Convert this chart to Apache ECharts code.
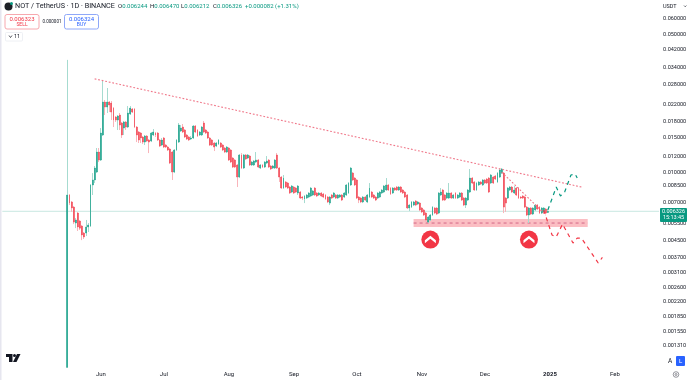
<!DOCTYPE html>
<html><head><meta charset="utf-8">
<style>html,body{margin:0;padding:0;background:#fff}#c{width:690px;height:380px}</style>
<script src="https://cdn.jsdelivr.net/npm/echarts@6/dist/echarts.min.js"></script>
</head><body><div id="c"></div>
<script>
const opens=[.00102,.00766,.00706,.00665,.00552,.0062,.00565,.00533,.00491,.00491,
.00527,.00533,.00861,.00913,.01002,.01266,.01153,.01545,.02272,.02143,
.02272,.02246,.02118,.01907,.01841,.01952,.01778,.01676,.01799,.01696,
.01975,.02094,.02094,.01696,.016,.01581,.01509,.01423,.01527,.01457,
.0144,.01545,.01581,.01581,.01457,.01374,.01492,.01374,.01342,.01311,
.01266,.01002,.01296,.01423,.01619,.01696,.01638,.01545,.01509,.01474,
.01492,.01716,.01638,.01545,.01545,.01778,.01638,.016,.01492,.01457,
.01407,.01358,.0139,.01407,.01374,.01327,.01266,.01327,.01296,.0118,
.01153,.01088,.00945,.01223,.0105,.01223,.0118,
.01208,.01088,.01088,.01126,.01153,.0105,.01088,.01062,.01113,.01153,.01075,.0105,.0105,.01223,
.0105,.00945,.00831,.00892,.00881,.00841,.00793,.00841,.00831,
.00784,.00793,.00748,.00731,.00739,.00748,.00757,.00766,
.00831,.00784,.00766,.00784,.00775,
.00766,.00748,.00697,.00766,.00748,.00766,.00739,
.00748,.00766,.00748,.00766,.00784,.00861,
.0099,.00934,.00913,.00748,.00739,.00706,.00748,.00706,.00748,.00793,.00766,.00748,.00739,.00748,.00784,.00793,.00812,.00861,.00831,.00784,
.00831,.00841,.00812,.00841,
.00812,.00793,.00766,.00658,.00665,.00681,.00714,.00689,.00697,.00658,.00643,.0062,.00558,.00572,.00606,.00658,.00658,.0062,.00766,.00812,.00766,.00739,.00739,.00784,.00739,.00784,
.00739,
.00748,.00784,.00739,.00681,.00722,.00793,.00934,.00892,.00812,.00861,
.00892,
.00861,.00913,.00923,.00934,.00881,.00945,
.00956,
.00892,.00945,.0099,.0099,.00739,.00739,.00812,.00841,.00784,.00831,.00831,.00748,
.00757,
.00748,.00665,.00606,.00658,.00613,.00643,.00681,.00665,.0062,.00628,.0065,
.006244];
const closes=[.00766,.00697,.00658,.00558,.00572,.00527,.0052,.0048,.00469,.00527,
.00539,.00861,.00913,.0105,.01266,.01153,.01581,.02272,.02143,.02272,
.02194,.02021,.01841,.01841,.01929,.01736,.01545,.01799,.01696,.01998,
.02118,.02021,.01696,.01545,.01457,.01492,.01423,.01527,.0144,.01423,
.01581,.016,.01545,.01457,.01358,.01457,.01342,.01342,.01296,.01113,
.01002,.01296,.01457,.01736,.01676,.016,.01509,.01474,.01457,.01492,
.01716,.016,.01527,.016,.01696,.016,.01581,.01492,.01374,.01374,
.01342,.01407,.01457,.01342,.01296,.01266,.01342,.01153,.01126,.01062,
.01062,.00945,.01223,.0105,.01223,.01167,.01223,
.01088,.01126,.0114,.01153,.01062,.01088,.01062,.01126,.0114,.01062,.01038,.01075,.01153,.0105,
.00945,.00831,.00934,.00841,.00831,.00784,.00851,.00784,.00793,
.00851,.00739,.00739,.00757,.00766,.00784,.00831,.00803,
.00766,.00757,.00784,.00757,.00748,
.00731,.00706,.00748,.00739,.00784,.00739,.00766,
.00766,.00722,.00784,.00861,.00881,.0105,
.00913,.00861,.00739,.00722,.00706,.00748,.00722,.00766,.00831,.00748,.00739,.00722,.00784,.00793,.00812,.00851,.00861,.00812,.00775,.00831,
.00812,.00812,.00841,.00793,
.00784,.00748,.00658,.00681,.00706,.00706,.00681,.00706,.00643,.00628,.00606,.00572,.00592,.00606,.00665,.0062,.00613,.00784,.00793,.00722,.00722,.00784,.00784,.00739,.00766,.00739,
.00766,
.00784,.00722,.00681,.00739,.00812,.00934,.00881,.00812,.00881,.00892,
.00871,
.00913,.00881,.00881,.00793,.00968,.00881,
.00923,
.0099,.01026,.01038,.00665,.00697,.00831,.00841,.00793,.00812,.00766,.00739,.00739,
.00739,
.00665,.00606,.00658,.00613,.00658,.00681,.0065,.0062,.00658,.00658,.0062,
.006326];
const lows=[.00102,.00681,.00628,.00545,.0052,.00503,.00509,.00452,.00458,.00474,
.00497,.00527,.00766,.00881,.0099,.01126,.0114,.01527,.01952,.01998,
.02021,.01841,.01696,.01799,.01638,.01638,.01492,.01545,.01638,.01676,
.01952,.01998,.01676,.01423,.01407,.01407,.0139,.01374,.01423,.01251,
.01423,.01527,.01509,.0144,.01342,.01358,.01327,.01327,.01281,.011,
.00913,.0099,.01281,.01407,.016,.01581,.01492,.01457,.0144,.01457,
.01474,.01581,.01509,.01527,.01527,.01581,.01563,.01474,.01358,.01358,
.01281,.01342,.01374,.01327,.01281,.01251,.01251,.0114,.01113,.0105,
.0105,.00841,.00934,.01038,.01038,.01153,.01167,
.01075,.01075,.01075,.01113,.0105,.01038,.0105,.0105,.011,.0105,.01026,.01038,.01038,.01038,
.00892,.00822,.00822,.00831,.00822,.00775,.00784,.00775,.00784,
.00766,.00731,.00722,.00697,.00731,.00739,.00748,.00757,
.00757,.00748,.00757,.00748,.00739,
.00722,.00697,.00681,.00731,.00739,.00731,.00731,
.00739,.00714,.00739,.00757,.00775,.00851,
.00902,.00851,.00731,.00697,.00697,.00697,.00714,.00697,.00739,.00739,.00731,.00714,.00731,.00739,.00775,.00784,.00803,.00803,.00766,.00775,
.00803,.00803,.00803,.00784,
.00775,.00739,.0065,.00635,.00658,.00673,.00673,.00681,.00635,.0062,.00599,.00552,.00552,.00565,.00599,.00613,.00606,.00613,.00757,.00714,.00714,.00731,.00731,.00731,.00731,.00731,
.00731,
.00739,.00714,.00673,.00658,.00714,.00784,.00871,.00803,.00803,.00851,
.00861,
.00851,.00871,.00871,.00784,.00871,.00871,
.00913,
.00881,.00934,.00979,.0062,.00628,.00731,.00803,.00784,.00775,.00757,.00731,.00731,
.00731,
.00658,.00599,.00552,.00606,.00606,.00635,.00643,.00613,.00613,.0062,.00613,
.006212];
const highs=[.0372,.00775,.00714,.00673,.00585,.00628,.00572,.00539,.00497,.00572,
.00552,.00871,.0099,.01075,.01327,.01327,.01676,.02939,.02326,.02677,
.02299,.02299,.02143,.01929,.01952,.01998,.01799,.0182,.0182,.02168,
.02168,.02118,.02118,.01716,.01619,.016,.01527,.01545,.01545,.01474,
.016,.01657,.016,.016,.01474,.01492,.01509,.0139,.01358,.01327,
.01281,.01311,.01474,.01778,.01736,.01757,.01657,.01563,.01527,.01527,
.01736,.01736,.01657,.01619,.01716,.0182,.01657,.01619,.01509,.01474,
.01423,.01423,.01474,.01423,.0139,.01342,.01358,.01342,.01311,.01194,
.01167,.011,.01237,.01251,.01237,.01237,.01237,
.01223,.0114,.01153,.01266,.01167,.011,.011,.0114,.01208,.01167,.01088,.01088,.01167,.01251,
.01062,.00956,.00968,.00902,.00892,.00851,.00861,.00851,.00841,
.00861,.00803,.00757,.00766,.00775,.00793,.00841,.00812,
.00841,.00793,.00793,.00793,.00784,
.00775,.00757,.00757,.00775,.00793,.00775,.00775,
.00775,.00775,.00793,.00871,.00892,.01062,
.01002,.00945,.00923,.00757,.00748,.00757,.00757,.00775,.00881,.00803,.00775,.00757,.00793,.00803,.00822,.00861,.00934,.00871,.00841,.00841,
.00841,.00851,.00851,.00851,
.00822,.00803,.00775,.00689,.00714,.00714,.00722,.00714,.00706,.00665,.0065,.00628,.00599,.00613,.00673,.00665,.00665,.00793,.00831,.00822,.00775,.00793,.00881,.00793,.00775,.00793,
.00775,
.00793,.00793,.00748,.00748,.00822,.01038,.00945,.00902,.00892,.00902,
.00902,
.00923,.00923,.00934,.00945,.00979,.00956,
.00968,
.01002,.01038,.0105,.01002,.00748,.00841,.00851,.00851,.00851,.00841,.00841,.00757,
.00766,
.00757,.00673,.00665,.00665,.00665,.00689,.00689,.00673,.00665,.00665,.00658,
.00647];

const priceTicks=[0.06,0.05,0.042,0.034,0.028,0.022,0.018,0.015,0.012,0.01,0.0085,0.007,0.0055,0.0045,0.0037,0.0031,0.0026,0.0022,0.00185,0.00155,0.00131];
const monthLabels={'2024-06-01':'Jun','2024-07-01':'Jul','2024-08-01':'Aug','2024-09-01':'Sep','2024-10-01':'Oct','2024-11-01':'Nov','2024-12-01':'Dec','2025-01-01':'2025','2025-02-01':'Feb'};
const lastPrice=0.006326;
// overlays: day = days after the first candle (2024-05-16)
const longTrendDays=[13,245], longTrendPrices=[0.0298,0.00841];
const shortTrendDays=[207,228], shortTrendPrices=[0.01002,0.00606];
const bullDays=[229,233,235,237,240,242,243], bullPrices=[0.00643,0.00841,0.00757,0.00793,0.00968,0.00979,0.00934];
const bearDays=[227,231,233,236,241,243,245,253,255], bearPrices=[0.00643,0.0048,0.00469,0.00545,0.00437,0.00463,0.00463,0.00346,0.00369];
const zoneDays=[165,248], zonePrices=[0.00578,0.00527], zoneMid=0.00552;
const arrowDays=[173,220], arrowPrice=0.00455;

const leadDays=31, totalDays=314;
const categories=[];
for(let i=0;i<totalDays;i++){const d=new Date(Date.UTC(2024,3,15+i));categories.push(d.toISOString().slice(0,10));}
const blank=Array(leadDays).fill('-');
const wicks=blank.concat(opens.map((o,i)=>[o,closes[i],lows[i],highs[i]]));
const bodies=blank.concat(opens.map((o,i)=>[o,closes[i],Math.min(o,closes[i]),Math.max(o,closes[i])]));
const pts=(ds,ps)=>ds.map((d,i)=>[d+leadDays,ps[i]]);
const UP='#089981',DOWN='#f23645',TXT='#131722',FF='Roboto, sans-serif';

function txt(x,y,s,size,fill,opt){return {type:'text',silent:true,z:50,x:x,y:y,style:Object.assign({text:s,fontSize:size,fill:fill,fontFamily:FF,textVerticalAlign:'middle',textAlign:'left'},opt||{})};}
function box(x,y,w,h,fill,stroke,r){return {type:'rect',silent:true,z:49,shape:{x:x,y:y,width:w,height:h,r:r||0},style:{fill:fill,stroke:stroke||null,lineWidth:stroke?1:0}};}
const ohlcRich={l:{fill:TXT,fontSize:6,fontFamily:FF},v:{fill:UP,fontSize:6,fontFamily:FF}};

const graphic=[
 box(0,0,1.5,380,'#e6e6ef'),
 {type:'circle',silent:true,z:50,shape:{cx:8.5,cy:6.5,r:4},style:{fill:'#1c1f26'}},
 {type:'circle',silent:true,z:51,shape:{cx:11.5,cy:3.5,r:1.5},style:{fill:UP}},
 txt(15,6.5,'NOT / TetherUS · 1D · BINANCE',7.2,TXT),
 txt(118,6.5,'{l|O}{v|0.006244}',6,UP,{rich:ohlcRich}),
 txt(150,6.5,'{l|H}{v|0.006470}',6,UP,{rich:ohlcRich}),
 txt(181,6.5,'{l|L}{v|0.006212}',6,UP,{rich:ohlcRich}),
 txt(213,6.5,'{l|C}{v|0.006326}',6,UP,{rich:ohlcRich}),
 txt(245,6.5,'+0.000082 (+1.31%)',6,UP),
 box(5,14.5,34,14.5,'#fff','#f7a8ae',2),
 txt(22,19,'0.006323',6,DOWN,{textAlign:'center'}),
 txt(22,25,'SELL',5,DOWN,{textAlign:'center'}),
 txt(52,21.5,'0.000001',4.5,TXT,{textAlign:'center'}),
 box(64.5,14.5,34,14.5,'#fff','#8fa8f8',2),
 txt(81.5,19,'0.006324',6,'#2962ff',{textAlign:'center'}),
 txt(81.5,25,'BUY',5,'#2962ff',{textAlign:'center'}),
 box(5.5,32.5,17,8.5,'#fff','#eef0f4',1),
 {type:'polyline',silent:true,z:50,shape:{points:[[9,35.5],[10.5,37.5],[12,35.5]]},style:{stroke:TXT,lineWidth:.7,fill:null}},
 txt(14,37,'11',5.5,TXT),
 {type:'polygon',silent:true,z:50,shape:{points:[[6,354],[12.5,354],[12.5,362],[9,362],[9,357],[6,357]]},style:{fill:TXT}},
 {type:'circle',silent:true,z:50,shape:{cx:14.5,cy:355.5,r:1.5},style:{fill:TXT}},
 {type:'polygon',silent:true,z:50,shape:{points:[[17,354],[20.5,354],[16.5,362],[13,362]]},style:{fill:TXT}},
 txt(663,6.5,'USDT',5.5,TXT),
 {type:'polyline',silent:true,z:50,shape:{points:[[684,5.5],[685.2,6.8],[686.4,5.5]]},style:{stroke:TXT,lineWidth:.6,fill:null}},
 box(660,208,27,14,UP,null,1),
 txt(673.5,212,'0.006326',5.5,'#fff',{textAlign:'center'}),
 txt(673.5,218,'15:13:45',5.5,'#fff',{textAlign:'center'}),
 txt(670,361,'A',6.5,TXT,{textAlign:'center'}),
 box(676,356,9,10,'#2962ff',null,1),
 txt(680.5,361,'L',6,'#fff',{textAlign:'center'}),
 {type:'circle',silent:true,z:50,shape:{cx:676,cy:374.5,r:2.8},style:{fill:'#fff',stroke:'#50535e',lineWidth:.6}},
 {type:'circle',silent:true,z:51,shape:{cx:676,cy:374.5,r:1},style:{fill:'#fff',stroke:'#50535e',lineWidth:.6}}
];

const chart=echarts.init(document.getElementById('c'),null,{renderer:'canvas'});
chart.setOption({
 animation:false,
 backgroundColor:'#fff',
 grid:{left:1.3,width:658.8,top:0,bottom:12,containLabel:false},
 tooltip:{show:false},
 xAxis:{type:'category',data:categories,boundaryGap:true,
  axisLine:{show:false},axisTick:{show:false},splitLine:{show:false},
  axisLabel:{interval:(i,v)=>monthLabels[v]!==undefined,margin:3,fontSize:6,color:TXT,fontFamily:FF,
   formatter:v=>v==='2025-01-01'?'{b|2025}':(monthLabels[v]||''),rich:{b:{fontSize:6,fontWeight:'bold',color:TXT,fontFamily:FF}}}},
 yAxis:{type:'log',logBase:10,position:'right',min:0.001013,max:0.07493,scale:true,
  axisLine:{show:false},axisTick:{show:false},splitLine:{show:false},minorTick:{show:false},
  axisLabel:{customValues:priceTicks,margin:3,fontSize:5.5,color:TXT,fontFamily:FF,formatter:v=>Number(v).toFixed(6)}},
 graphic:graphic,
 series:[
  {type:'line',silent:true,symbol:'none',z:1,data:[[0,lastPrice],[totalDays-1,lastPrice]],lineStyle:{color:'#d3ece7',width:1.3}},
  {type:'line',silent:true,symbol:'none',z:2,data:pts(zoneDays,[zoneMid,zoneMid]),lineStyle:{color:'#c2406b',width:.7,type:[3,3]},
   markArea:{silent:true,itemStyle:{color:'rgba(242,54,69,0.32)'},data:[[{coord:[zoneDays[0]+leadDays,zonePrices[0]]},{coord:[zoneDays[1]+leadDays,zonePrices[1]]}]]}},
  {type:'candlestick',silent:true,z:3,barWidth:1,data:wicks,itemStyle:{color:'#a6dbd0',color0:'#f9b4ba',borderColor:'#a6dbd0',borderColor0:'#f9b4ba',borderWidth:1}},
  {type:'candlestick',silent:true,z:4,barWidth:1.4,data:bodies,itemStyle:{color:UP,color0:DOWN,borderColor:UP,borderColor0:DOWN,borderWidth:.4}},
  {type:'line',silent:true,symbol:'none',z:5,data:pts(longTrendDays,longTrendPrices),lineStyle:{color:'#f0788a',width:1.1,type:[1.8,1.8]}},
  {type:'line',silent:true,symbol:'none',z:5,data:pts(shortTrendDays,shortTrendPrices),lineStyle:{color:'#f0788a',width:1.1,type:[1.8,1.8]}},
  {type:'line',silent:true,symbol:'none',z:6,data:pts(bullDays,bullPrices),lineStyle:{color:UP,width:1.2,type:[4,4]}},
  {type:'line',silent:true,symbol:'none',z:6,data:pts(bearDays,bearPrices),lineStyle:{color:DOWN,width:1.2,type:[4,4]}},
  {type:'scatter',silent:true,z:7,symbol:'circle',symbolSize:18,data:arrowDays.map(d=>[d+leadDays,arrowPrice]),itemStyle:{color:DOWN,opacity:1}},
  {type:'scatter',silent:true,z:8,symbol:'path://M0 6 L6 0 L12 6 L12 10 L6 4 L0 10 Z',symbolSize:[11,7.5],data:arrowDays.map(d=>[d+leadDays,arrowPrice]),itemStyle:{color:'#fff',opacity:1}}
 ]
});
</script></body></html>
